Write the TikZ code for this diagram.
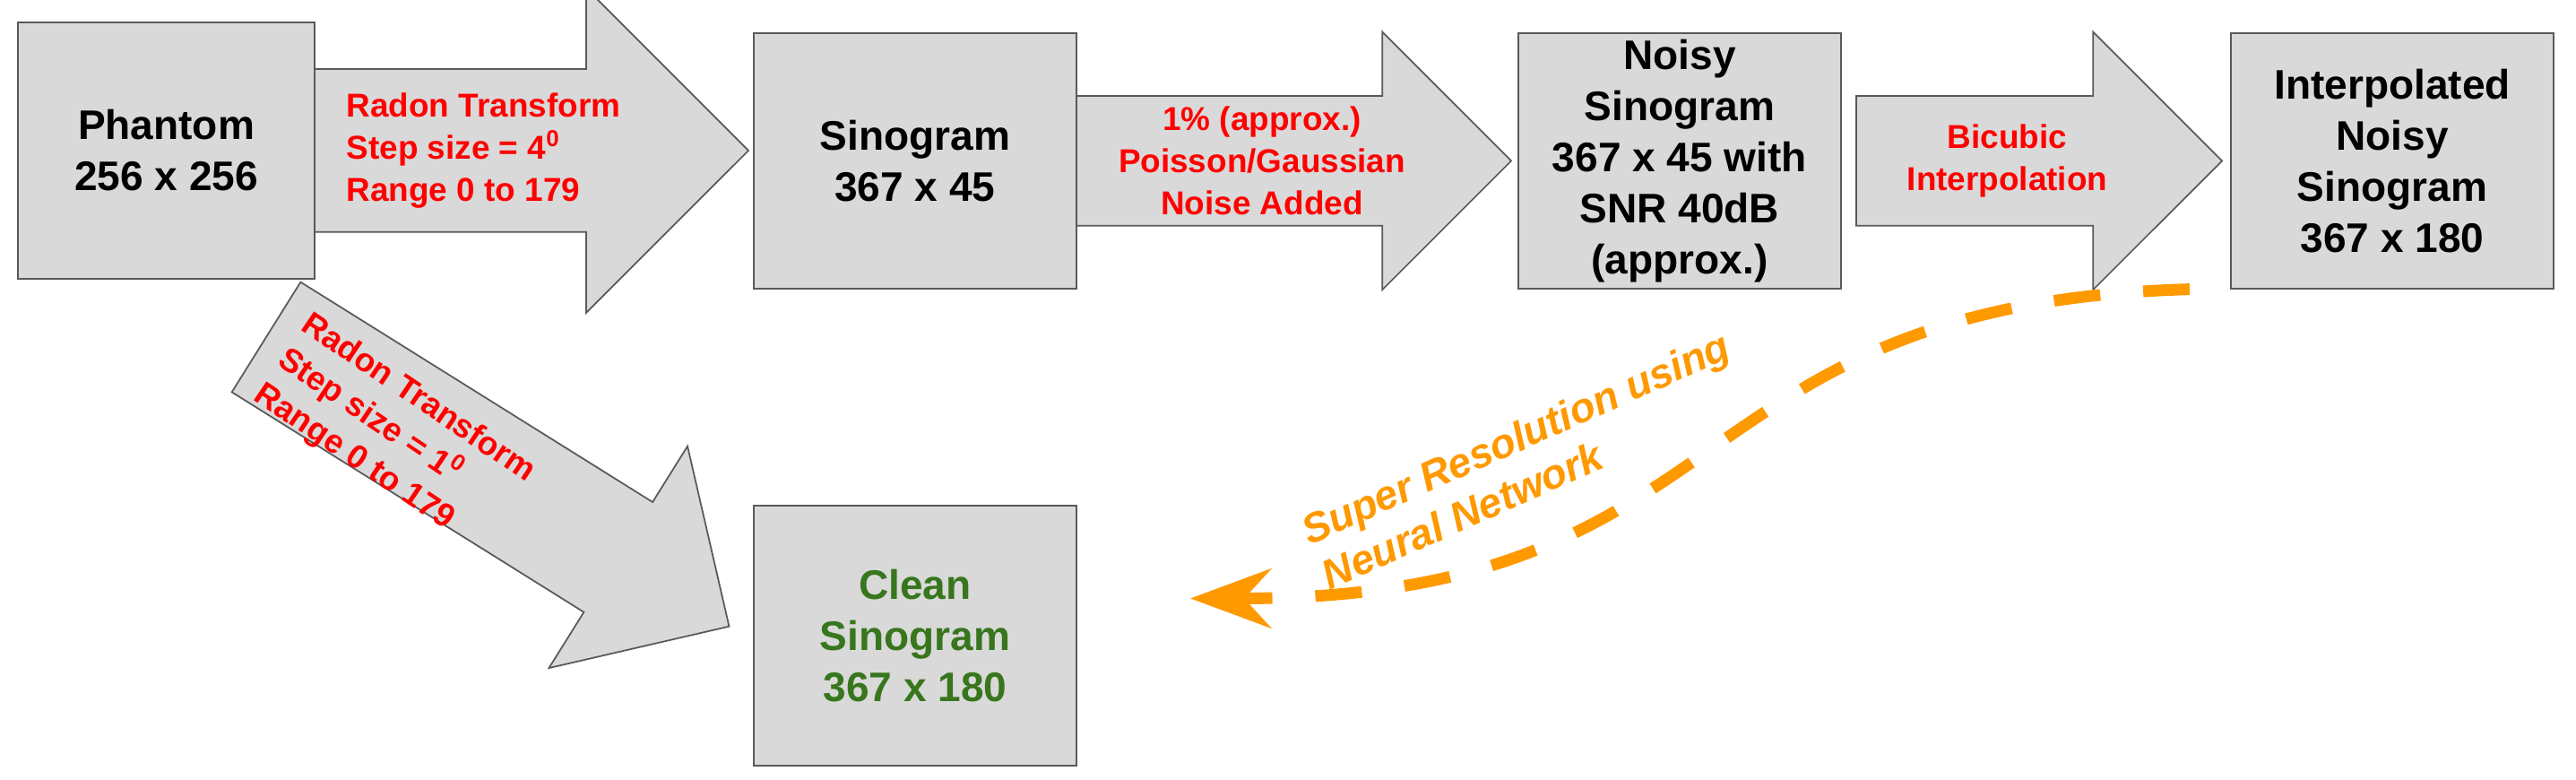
\documentclass[tikz,border=0pt]{standalone}
\usepackage{fontspec}
\setmainfont{Liberation Sans}
\usetikzlibrary{positioning,shapes.arrows,arrows.meta,backgrounds}
\definecolor{boxfill}{RGB}{217,217,217}
\definecolor{boxline}{RGB}{89,89,89}
\definecolor{cleangreen}{RGB}{56,118,29}
\definecolor{nnorange}{RGB}{255,153,0}
\tikzset{box node/.style={rectangle,draw=boxline,fill=boxfill,line width=0.8pt,minimum width=3.6cm,minimum height=2.85cm,inner sep=0pt,outer sep=0pt,align=center,font=\fontsize{13.1}{16.2}\selectfont\bfseries},
	block arrow/.style={single arrow,draw=boxline,fill=boxfill,line width=0.5pt,inner xsep=0pt,outer sep=0pt,minimum width=0pt,single arrow tip angle=90,anchor=tail},
	op label/.style={text=red,inner sep=0pt,font=\fontsize{10.5}{13.4}\selectfont\bfseries},
	nn label/.style={text=nnorange,inner sep=0pt,align=left,font=\fontsize{13.1}{15.6}\selectfont\bfseries\itshape},
	nn flow/.style={draw=nnorange,line width=0.13cm,dash pattern=on 0.52cm off 0.48cm,dash phase=0.54cm,-{Stealth[length=0.9cm,width=0.66cm,inset=0.3cm]}},
}
\begin{document}
\begin{tikzpicture}[node distance = 2.0cm]
	\useasboundingbox (0,0) rectangle (28.74,-8.70);
	\node[box node,minimum width=3.31cm,minimum height=2.86cm] (phantom) at (1.855,-1.68) {Phantom\\256 x 256};
	\node[box node] (sino) at (10.21,-1.795) {Sinogram\\367 x 45};
	\node[box node] (noisy)[right = 4.93cm of sino] {Noisy\\Sinogram\\367 x 45 with\\SNR 40dB\\(approx.)};
	\node[box node] (interp)[right = 4.35cm of noisy] {Interpolated\\Noisy\\Sinogram\\367 x 180};
	\node[box node,minimum height=2.9cm,text=cleangreen] (clean)[below = 2.42cm of sino] {Clean\\Sinogram\\367 x 180};
	
	% block arrows behind the boxes
	\begin{pgfonlayer}{background}
	\node[block arrow,minimum height=4.84cm,inner ysep=0.9cm,single arrow head extend=0.9cm] (radon4) at (phantom.east) {};
	\node[block arrow,minimum height=4.85cm,inner ysep=0.715cm,single arrow head extend=0.715cm] (noise) at (sino.east) {};
	\node[block arrow,minimum height=4.08cm,inner ysep=0.715cm,single arrow head extend=0.715cm] (bicubic) at ([xshift=0.17cm]noisy.east) {};
	\node[block arrow,minimum height=6.09cm,inner ysep=0.715cm,single arrow head extend=0.735cm,rotate=-32] (radon1) at ([xshift=1.115cm,yshift=-0.65cm]phantom.south) {};
	\end{pgfonlayer}
	
	\node[op label,align=left,anchor=west] (radon4 text) at ([xshift=0.35cm]radon4.tail) {Radon Transform\\Step size = 4\textsuperscript{0}\\Range 0 to 179};
	\node[op label,align=center] (noise text) at ([xshift=2.07cm]noise.tail) {1\% (approx.)\\Poisson/Gaussian\\Noise Added};
	\node[op label,align=center] (bicubic text) at ([xshift=1.685cm]bicubic.tail) {Bicubic\\Interpolation};
	\node[op label,align=left,rotate=-34] (radon1 text) at (4.40,-4.84) {Radon Transform\\Step size = 1\textsuperscript{0}\\Range 0 to 179};
	
	% super resolution
	\coordinate (nn end) at ([xshift=1.27cm,yshift=0.415cm]clean.east);
	\draw[nn flow] (interp.south west) .. controls +(-6.34,0) and +(6.40,0) .. (nn end);
	\node[nn label,rotate=24] (nn text) at (17.02,-5.13) {Super Resolution using\\Neural Network};
\end{tikzpicture}
\end{document}
